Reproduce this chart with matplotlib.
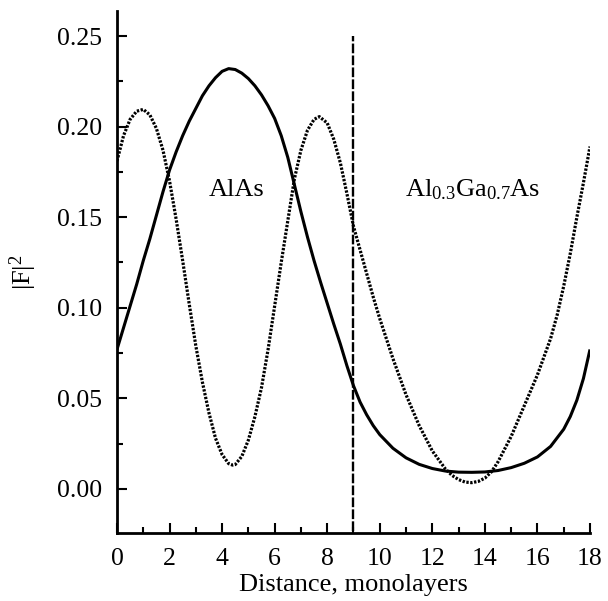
import matplotlib
matplotlib.use("Agg")
import matplotlib.pyplot as plt
from matplotlib.ticker import MultipleLocator, FormatStrFormatter

plt.rcParams['font.family'] = ['Liberation Serif', 'DejaVu Serif']
plt.rcParams['mathtext.fontset'] = 'custom'
plt.rcParams['mathtext.rm'] = 'Liberation Serif'
plt.rcParams['mathtext.it'] = 'Liberation Serif:italic'
plt.rcParams['lines.scale_dashes'] = False

# Solid curve
x_solid = [0, 0.25, 0.5, 0.75, 1.0, 1.25, 1.5, 1.75, 2.0, 2.25, 2.5, 2.75, 3.0, 3.25,
           3.5, 3.75, 4.0, 4.25, 4.5, 4.75, 5.0, 5.25, 5.5, 5.75, 6.0, 6.25, 6.5, 6.75,
           7.0, 7.25, 7.5, 7.75, 8.0, 8.25, 8.5, 8.75, 9.0, 9.25, 9.5, 9.75, 10.0, 10.5,
           11.0, 11.5, 12.0, 12.5, 13.0, 13.5, 14.0, 14.5, 15.0, 15.5, 16.0, 16.5, 17.0,
           17.25, 17.5, 17.75, 18.0]
y_solid = [0.077, 0.089, 0.101, 0.113, 0.126, 0.138, 0.151, 0.164, 0.176, 0.186, 0.195,
           0.203, 0.210, 0.217, 0.2225, 0.227, 0.2305, 0.232, 0.2315, 0.2295, 0.2265,
           0.2225, 0.2175, 0.2115, 0.2045, 0.195, 0.183, 0.168, 0.153, 0.139, 0.126,
           0.114, 0.1025, 0.091, 0.080, 0.068, 0.057, 0.048, 0.041, 0.035, 0.030, 0.0225,
           0.0172, 0.0136, 0.0113, 0.0099, 0.0093, 0.0092, 0.0094, 0.0102, 0.0118, 0.0142,
           0.0177, 0.0235, 0.033, 0.040, 0.049, 0.061, 0.077]

# Dotted curve
x_dot = [0, 0.25, 0.5, 0.75, 1.0, 1.25, 1.5, 1.75, 2.0, 2.25, 2.5, 2.75, 3.0, 3.25, 3.5,
         3.75, 4.0, 4.25, 4.4, 4.5, 4.75, 5.0, 5.25, 5.5, 5.75, 6.0, 6.25, 6.5, 6.75,
         7.0, 7.25, 7.5, 7.7, 8.0, 8.25, 8.5, 8.75, 9.0, 9.25, 9.5, 9.75, 10.0, 10.5,
         11.0, 11.5, 12.0, 12.5, 12.75, 13.0, 13.25, 13.5, 13.75, 14.0, 14.25, 14.5,
         14.75, 15.0, 15.5, 16.0, 16.5, 16.75, 17.0, 17.25, 17.5, 17.75, 18.0]
y_dot = [0.181, 0.195, 0.204, 0.2085, 0.2095, 0.2065, 0.199, 0.187, 0.170, 0.149, 0.126,
         0.102, 0.079, 0.059, 0.042, 0.028, 0.019, 0.014, 0.0132, 0.0135, 0.018, 0.027,
         0.040, 0.056, 0.077, 0.101, 0.125, 0.148, 0.171, 0.187, 0.198, 0.204, 0.2055,
         0.202, 0.193, 0.180, 0.163, 0.145, 0.132, 0.119, 0.106, 0.094, 0.072, 0.052,
         0.035, 0.021, 0.011, 0.0075, 0.0052, 0.0038, 0.0035, 0.0042, 0.006, 0.0095,
         0.015, 0.022, 0.029, 0.046, 0.063, 0.083, 0.096, 0.112, 0.130, 0.150, 0.169,
         0.189]

boundary_x = 9
boundary_top = 0.25

xticks = [0, 2, 4, 6, 8, 10, 12, 14, 16, 18]
yticks = [0.00, 0.05, 0.10, 0.15, 0.20, 0.25]

fig = plt.figure(figsize=(6.08, 6.01), dpi=100)
ax = fig.add_axes([0.1924, 0.1131, 0.778, 0.8686])

ax.plot(x_solid, y_solid, color='black', lw=2.2, solid_capstyle='butt',
        solid_joinstyle='round')
ax.plot(x_dot, y_dot, color='black', lw=2.3, linestyle=(0, (1.7, 1.1)),
        dash_capstyle='butt')
ax.plot([boundary_x, boundary_x], [-0.03, boundary_top], color='black', lw=1.7,
        linestyle=(0, (7.0, 1.6)))

ax.set_xlim(0, 18)
ax.set_ylim(-0.0243, 0.2638)

ax.spines['top'].set_visible(False)
ax.spines['right'].set_visible(False)
for s in ('left', 'bottom'):
    ax.spines[s].set_linewidth(2.0)

ax.set_xticks(xticks)
ax.set_yticks(yticks)
ax.xaxis.set_minor_locator(MultipleLocator(1))
ax.yaxis.set_minor_locator(MultipleLocator(0.025))
ax.yaxis.set_major_formatter(FormatStrFormatter('%.2f'))
ax.tick_params(which='major', direction='in', length=7.5, width=1.5, labelsize=18.5, pad=11)
ax.tick_params(which='minor', direction='in', length=4.5, width=1.5)

ax.set_xlabel('Distance, monolayers', fontsize=19, labelpad=3)
ax.set_ylabel(r'$\mathregular{|F|^2}$', fontsize=19, labelpad=13)

ax.text(4.57, 0.165, 'AlAs', fontsize=19, ha='center', va='center')
ax.text(13.55, 0.165, r'$\mathregular{Al_{0.3}Ga_{0.7}As}$', fontsize=19,
        ha='center', va='center')

fig.savefig('out.png', dpi=100)
